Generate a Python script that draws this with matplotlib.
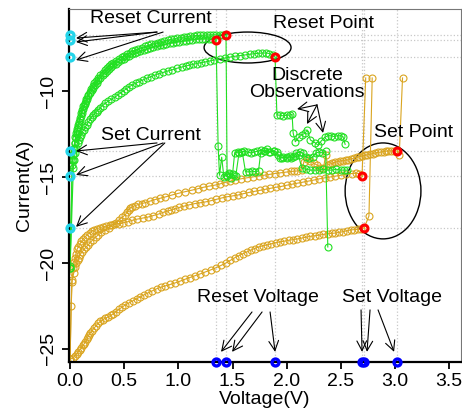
import numpy as np
import matplotlib.pyplot as plt
from matplotlib.patches import Ellipse

plt.rcParams['font.family'] = ['Liberation Sans', 'DejaVu Sans']
plt.rcParams['font.size'] = 14

# Reset / set points (voltage, current)
reset_v = [1.348, 1.44, 1.893]
reset_i = [-7.03, -6.74, -8.02]
set_v = [2.696, 2.715, 3.02]
set_i = [-14.94, -17.97, -13.49]

# Reset sweeps (green), (V, A) pairs
green_a = [
    (0.0, -20.3), (0.02, -14.3), (0.025, -14.0), (0.03, -13.7), (0.038, -13.35), (0.045, -13.0),
    (0.052, -12.75), (0.06, -12.5), (0.067, -12.3), (0.075, -12.1), (0.082, -11.9), (0.09, -11.7),
    (0.1, -11.47), (0.11, -11.25), (0.12, -11.07), (0.13, -10.9), (0.14, -10.75), (0.15, -10.6),
    (0.16, -10.45), (0.17, -10.3), (0.185, -10.12), (0.2, -9.95), (0.215, -9.8), (0.23, -9.65),
    (0.245, -9.51), (0.26, -9.38), (0.28, -9.23), (0.3, -9.08), (0.32, -8.95), (0.34, -8.82),
    (0.36, -8.71), (0.38, -8.6), (0.4, -8.5), (0.42, -8.4), (0.445, -8.3), (0.47, -8.2),
    (0.495, -8.11), (0.52, -8.02), (0.545, -7.94), (0.57, -7.87), (0.595, -7.81), (0.62, -7.75),
    (0.65, -7.68), (0.68, -7.62), (0.71, -7.56), (0.74, -7.5), (0.77, -7.45), (0.8, -7.4),
    (0.83, -7.35), (0.86, -7.31), (0.89, -7.27), (0.92, -7.23), (0.95, -7.19), (0.98, -7.16),
    (1.01, -7.13), (1.04, -7.1), (1.07, -7.07), (1.1, -7.05), (1.13, -7.02), (1.16, -7.0),
    (1.19, -6.98), (1.22, -6.97), (1.25, -6.97), (1.28, -6.98), (1.31, -7.0), (1.348, -7.03),
    (1.367, -13.2), (1.38, -14.9), (1.40, -13.85), (1.42, -15.0), (1.44, -14.9), (1.47, -14.8),
    (1.50, -14.85), (1.52, -13.6), (1.55, -13.55), (1.58, -13.55), (1.61, -13.5), (1.64, -13.55),
    (1.67, -13.6), (1.70, -13.55), (1.73, -13.5), (1.76, -13.45), (1.79, -13.5), (1.82, -13.4),
    (1.85, -13.55), (1.88, -13.5), (1.91, -13.55), (1.94, -13.9), (1.97, -13.85), (2.0, -13.9),
    (2.03, -13.8), (2.06, -13.85), (2.09, -13.6), (2.12, -13.55), (2.15, -13.6), (2.18, -13.85),
    (2.21, -13.9), (2.24, -13.85), (2.27, -13.6), (2.30, -13.55), (2.33, -13.6), (2.36, -13.5),
    (2.38, -19.07),
]
green_b = [
    (0.0, -20.2), (0.02, -14.0), (0.027, -13.65), (0.035, -13.3), (0.042, -13.0), (0.05, -12.7),
    (0.057, -12.45), (0.065, -12.2), (0.072, -12.0), (0.08, -11.8), (0.09, -11.55), (0.1, -11.3),
    (0.11, -11.1), (0.12, -10.9), (0.135, -10.67), (0.15, -10.45), (0.165, -10.25), (0.18, -10.05),
    (0.195, -9.87), (0.21, -9.7), (0.225, -9.55), (0.24, -9.4), (0.26, -9.24), (0.28, -9.08),
    (0.3, -8.94), (0.32, -8.8), (0.34, -8.68), (0.36, -8.56), (0.38, -8.45), (0.4, -8.35),
    (0.425, -8.24), (0.45, -8.13), (0.475, -8.03), (0.5, -7.94), (0.525, -7.86), (0.55, -7.78),
    (0.575, -7.7), (0.6, -7.63), (0.63, -7.55), (0.66, -7.48), (0.69, -7.41), (0.72, -7.35),
    (0.75, -7.29), (0.78, -7.24), (0.81, -7.18), (0.84, -7.13), (0.87, -7.08), (0.9, -7.04),
    (0.93, -7.0), (0.96, -6.96), (0.99, -6.92), (1.02, -6.89), (1.05, -6.86), (1.08, -6.83),
    (1.11, -6.81), (1.14, -6.79), (1.17, -6.77), (1.2, -6.76), (1.23, -6.75), (1.26, -6.74),
    (1.29, -6.73), (1.32, -6.73), (1.35, -6.73), (1.38, -6.73), (1.41, -6.73), (1.44, -6.74),
    (1.45, -14.95), (1.47, -14.75), (1.49, -15.05), (1.51, -14.9), (1.53, -14.95), (1.56, -13.6),
    (1.59, -13.55), (1.62, -14.7), (1.65, -14.7), (1.68, -14.65), (1.71, -14.7), (1.74, -14.65),
    (1.76, -13.6), (1.80, -13.5), (1.84, -13.55), (1.88, -13.5), (1.92, -13.75), (1.96, -13.9),
    (2.0, -13.85), (2.04, -13.9), (2.08, -13.8), (2.11, -13.75), (2.14, -14.5), (2.18, -14.55),
    (2.22, -14.6), (2.26, -14.6), (2.30, -14.6), (2.34, -14.55), (2.38, -14.6), (2.42, -14.6),
    (2.46, -14.55), (2.50, -14.6), (2.53, -14.6), (2.56, -14.6),
]
green_c = [
    (0.0, -20.3), (0.03, -14.5), (0.038, -14.0), (0.046, -13.6), (0.058, -13.3), (0.07, -13.0),
    (0.08, -12.85), (0.09, -12.7), (0.1, -12.55), (0.11, -12.4), (0.125, -12.25), (0.139, -12.1),
    (0.155, -11.95), (0.17, -11.8), (0.185, -11.65), (0.2, -11.5), (0.215, -11.4), (0.23, -11.3),
    (0.245, -11.2), (0.259, -11.1), (0.28, -10.97), (0.3, -10.85), (0.325, -10.72), (0.35, -10.6),
    (0.38, -10.48), (0.416, -10.35), (0.443, -10.22), (0.47, -10.1), (0.495, -9.98), (0.52, -9.87),
    (0.545, -9.76), (0.572, -9.65), (0.605, -9.55), (0.64, -9.45), (0.675, -9.35), (0.71, -9.25),
    (0.75, -9.16), (0.785, -9.07), (0.82, -8.99), (0.86, -8.92), (0.9, -8.84), (0.94, -8.77),
    (0.985, -8.68), (1.034, -8.6), (1.067, -8.55), (1.1, -8.5), (1.135, -8.45), (1.17, -8.4),
    (1.21, -8.35), (1.247, -8.31), (1.29, -8.25), (1.33, -8.2), (1.38, -8.14), (1.431, -8.08),
    (1.475, -8.03), (1.52, -7.98), (1.57, -7.94), (1.616, -7.9), (1.66, -7.86), (1.7, -7.83),
    (1.735, -7.81), (1.773, -7.79), (1.81, -7.79), (1.84, -7.82), (1.87, -7.9), (1.893, -8.02),
    (1.91, -11.4), (1.94, -11.4), (1.97, -11.45), (2.0, -11.4), (2.03, -11.4), (2.05, -11.35),
    (2.06, -12.45), (2.08, -12.95), (2.11, -12.7), (2.14, -12.55), (2.17, -12.45), (2.19, -12.27),
    (2.22, -12.85), (2.26, -13.0), (2.29, -13.15), (2.32, -12.9), (2.35, -12.7), (2.38, -12.6),
    (2.41, -12.6), (2.44, -12.65), (2.47, -12.6), (2.50, -12.6), (2.52, -12.65), (2.54, -13.1),
]

# Set sweeps (orange)
orange_1 = [
    (0.0, -25.6), (0.03, -25.5), (0.045, -25.4), (0.06, -25.3), (0.075, -25.18), (0.09, -25.06),
    (0.105, -24.93), (0.12, -24.8), (0.13, -24.7), (0.14, -24.6), (0.152, -24.45), (0.165, -24.3),
    (0.175, -24.18), (0.185, -24.07), (0.2, -23.95), (0.22, -23.8), (0.24, -23.65), (0.26, -23.5),
    (0.28, -23.4), (0.3, -23.3), (0.325, -23.22), (0.35, -23.14), (0.375, -23.05), (0.4, -22.95),
    (0.425, -22.83), (0.45, -22.7), (0.48, -22.57), (0.51, -22.44), (0.545, -22.32), (0.58, -22.2),
    (0.615, -22.08), (0.65, -21.97), (0.685, -21.85), (0.72, -21.74), (0.76, -21.62), (0.8, -21.5),
    (0.84, -21.41), (0.88, -21.33), (0.925, -21.25), (0.97, -21.16), (1.015, -21.06), (1.06, -20.95),
    (1.105, -20.85), (1.15, -20.75), (1.2, -20.64), (1.25, -20.52), (1.3, -20.4), (1.35, -20.27),
    (1.395, -20.14), (1.44, -20.0), (1.48, -19.85), (1.52, -19.7), (1.56, -19.57), (1.6, -19.45),
    (1.635, -19.35), (1.67, -19.25), (1.705, -19.16), (1.74, -19.07), (1.78, -19.0), (1.82, -18.95),
    (1.86, -18.88), (1.9, -18.82), (1.94, -18.77), (1.98, -18.73), (2.02, -18.68), (2.06, -18.64),
    (2.1, -18.6), (2.14, -18.55), (2.18, -18.5), (2.22, -18.45), (2.26, -18.42), (2.3, -18.38),
    (2.34, -18.34), (2.38, -18.3), (2.415, -18.28), (2.45, -18.26), (2.485, -18.22), (2.52, -18.18),
    (2.555, -18.13), (2.59, -18.08), (2.625, -18.06), (2.66, -18.05), (2.69, -18.0), (2.715, -17.97),
    (2.76, -17.27), (2.79, -9.24),
]
orange_2 = [
    (0.0, -25.6), (0.015, -21.1), (0.03, -20.3), (0.038, -19.95), (0.045, -19.7), (0.055, -19.45),
    (0.065, -19.2), (0.077, -19.05), (0.09, -18.9), (0.105, -18.75), (0.12, -18.6), (0.14, -18.47),
    (0.16, -18.35), (0.18, -18.25), (0.2, -18.15), (0.225, -18.07), (0.25, -18.0), (0.275, -17.95),
    (0.3, -17.9), (0.335, -17.85), (0.37, -17.8), (0.41, -17.76), (0.45, -17.72), (0.49, -17.66),
    (0.535, -17.6), (0.575, -17.52), (0.62, -17.45), (0.67, -17.39), (0.72, -17.33), (0.77, -17.24),
    (0.82, -17.15), (0.86, -17.06), (0.9, -16.98), (0.935, -16.92), (0.97, -16.85), (1.01, -16.77),
    (1.05, -16.7), (1.1, -16.62), (1.15, -16.55), (1.2, -16.5), (1.25, -16.45), (1.3, -16.38),
    (1.35, -16.3), (1.4, -16.22), (1.45, -16.15), (1.5, -16.1), (1.55, -16.05), (1.6, -15.97),
    (1.65, -15.9), (1.7, -15.84), (1.75, -15.78), (1.8, -15.72), (1.85, -15.66), (1.9, -15.6),
    (1.95, -15.55), (2.0, -15.48), (2.05, -15.42), (2.1, -15.36), (2.15, -15.3), (2.2, -15.24),
    (2.25, -15.18), (2.3, -15.11), (2.35, -15.05), (2.4, -15.0), (2.45, -14.95), (2.5, -14.9),
    (2.55, -14.85), (2.6, -14.8), (2.64, -14.78), (2.67, -14.8), (2.696, -14.94), (2.73, -9.24),
]
orange_3 = [
    (0.0, -25.6), (0.01, -22.5), (0.02, -21.0), (0.033, -20.6), (0.046, -20.23), (0.058, -20.03),
    (0.07, -19.85), (0.08, -19.7), (0.09, -19.53), (0.11, -19.36), (0.13, -19.2), (0.148, -19.07),
    (0.166, -18.95), (0.188, -18.8), (0.21, -18.65), (0.235, -18.5), (0.26, -18.37), (0.29, -18.22),
    (0.32, -18.08), (0.355, -17.94), (0.39, -17.8), (0.42, -17.65), (0.45, -17.5), (0.48, -17.35),
    (0.51, -17.2), (0.525, -17.05), (0.54, -16.9), (0.555, -16.82), (0.57, -16.74), (0.6, -16.67),
    (0.63, -16.6), (0.66, -16.55), (0.69, -16.5), (0.735, -16.41), (0.78, -16.32), (0.83, -16.24),
    (0.88, -16.16), (0.94, -16.05), (1.0, -15.95), (1.065, -15.85), (1.13, -15.76), (1.18, -15.68),
    (1.23, -15.6), (1.285, -15.53), (1.34, -15.47), (1.385, -15.4), (1.43, -15.32), (1.475, -15.25),
    (1.52, -15.17), (1.575, -15.11), (1.63, -15.05), (1.685, -15.0), (1.74, -14.94), (1.79, -14.9),
    (1.84, -14.85), (1.89, -14.8), (1.94, -14.76), (1.99, -14.72), (2.04, -14.68), (2.07, -14.66),
    (2.10, -14.65), (2.14, -14.6), (2.16, -14.1), (2.19, -13.95), (2.22, -14.05), (2.25, -14.2),
    (2.28, -14.3), (2.31, -14.45), (2.34, -14.5), (2.36, -13.7), (2.38, -14.3), (2.40, -14.25),
    (2.42, -14.2), (2.445, -14.15), (2.47, -14.1), (2.495, -14.07), (2.52, -14.05), (2.545, -14.02),
    (2.57, -14.0), (2.595, -13.95), (2.62, -13.9), (2.645, -13.86), (2.67, -13.82), (2.695, -13.78),
    (2.72, -13.75), (2.745, -13.71), (2.77, -13.68), (2.795, -13.64), (2.82, -13.6), (2.845, -13.57),
    (2.87, -13.55), (2.895, -13.52), (2.92, -13.5), (2.94, -13.49), (2.96, -13.48), (2.99, -13.48),
    (3.02, -13.49), (3.04, -13.7), (3.07, -9.24),
]

green = '#22e022'
orange = '#daa520'
x_lo, x_hi = -0.01, 3.61
y_lo, y_hi = -25.76, -5.23

fig = plt.figure(figsize=(4.62, 4.15), dpi=100)
ax = fig.add_axes([69 / 462, 1 - 362 / 415, 392 / 462, 353 / 415])

# dotted guide lines at the reset/set points
for v in reset_v + set_v:
    ax.axvline(v, color='#c8c8c8', ls=':', lw=0.9, zorder=0)
for c in reset_i + set_i:
    ax.axhline(c, color='#c8c8c8', ls=':', lw=0.9, zorder=0)

for curve in [orange_1, orange_2, orange_3]:
    v, i = zip(*curve)
    ax.plot(v, i, '-o', color=orange, lw=0.8, ms=5, mfc='none', mew=0.8)
for curve in [green_a, green_b, green_c]:
    v, i = zip(*curve)
    ax.plot(v, i, '-o', color=green, lw=0.8, ms=5, mfc='none', mew=0.8)

pts_v = reset_v + set_v
pts_i = reset_i + set_i
ax.plot(pts_v, pts_i, 'o', ls='none', mfc='none', mec='red', mew=2.2, ms=5, zorder=5)
ax.plot([0] * len(pts_i), pts_i, 'o', ls='none', mfc='none', mec='#25d5ea', mew=2.4, ms=5,
        zorder=5, clip_on=False)
ax.plot(pts_v, [y_lo] * len(pts_v), 'o', ls='none', mfc='none', mec='blue', mew=2.4, ms=5,
        zorder=5, clip_on=False)

ax.add_patch(Ellipse((1.639, -7.47), 0.803, 1.80, fill=False, ec='black', lw=1))
ax.add_patch(Ellipse((2.89, -15.81), 0.70, 5.58, fill=False, ec='black', lw=1))

arrow = dict(arrowstyle='->,head_length=0.5,head_width=0.25', lw=0.8, color='black',
             shrinkA=0, shrinkB=0, mutation_scale=14)

def arrows(starts, tips):
    for s, t in zip(starts, tips):
        ax.annotate('', xy=t, xytext=s, arrowprops=arrow)

ax.text(0.748, -5.81, 'Reset Current', ha='center', va='center')
arrows([(0.803, -6.57), (0.803, -6.57), (0.859, -6.57)],
       [(0.055, -6.92), (0.055, -7.15), (0.055, -8.2)])

ax.text(0.748, -12.56, 'Set Current', ha='center', va='center')
arrows([(0.803, -13.02), (0.859, -13.02), (0.875, -13.02)],
       [(0.055, -13.49), (0.055, -14.88), (0.055, -17.9)])

ax.text(2.336, -6.05, 'Reset Point', ha='center', va='center')

ax.text(2.188, -9.6, 'Discrete\nObservations', ha='center', va='center', linespacing=0.95)
arrows([(2.28, -10.81)] * 3, [(2.096, -11.05), (2.188, -11.92), (2.336, -12.44)])

ax.text(3.176, -12.44, 'Set Point', ha='center', va='center')

ax.text(1.736, -21.98, 'Reset Voltage', ha='center', va='center')
arrows([(1.68, -22.85), (1.773, -22.85), (1.847, -22.85)],
       [(1.394, -25.17), (1.496, -25.17), (1.893, -25.17)])

ax.text(2.973, -21.98, 'Set Voltage', ha='center', va='center')
arrows([(2.687, -22.73), (2.77, -22.73), (2.844, -22.73)],
       [(2.696, -25.17), (2.742, -25.17), (2.992, -25.17)])

ax.set_xlim(x_lo, x_hi)
ax.set_ylim(y_lo, y_hi)
ax.set_xticks([0.0, 0.5, 1.0, 1.5, 2.0, 2.5, 3.0, 3.5])
ax.set_xticklabels(['0.0', '0.5', '1.0', '1.5', '2.0', '2.5', '3.0', '3.5'])
ax.set_yticks([-25, -20, -15, -10])
ax.tick_params(axis='both', width=1.3, length=5, labelsize=14)
ax.tick_params(axis='x', pad=3)
ax.tick_params(axis='y', pad=4)
for lbl in ax.get_yticklabels():
    lbl.set_rotation(90)
    lbl.set_va('center')

for side in ['top', 'right']:
    ax.spines[side].set_color('#777777')
    ax.spines[side].set_linewidth(0.8)
for side in ['left', 'bottom']:
    ax.spines[side].set_linewidth(1.6)

ax.set_xlabel('Voltage(V)')
ax.set_ylabel('Current(A)')
ax.xaxis.set_label_coords(0.5, -0.082)
ax.yaxis.set_label_coords(-0.092, 0.5)

fig.savefig('out.png', dpi=100)
